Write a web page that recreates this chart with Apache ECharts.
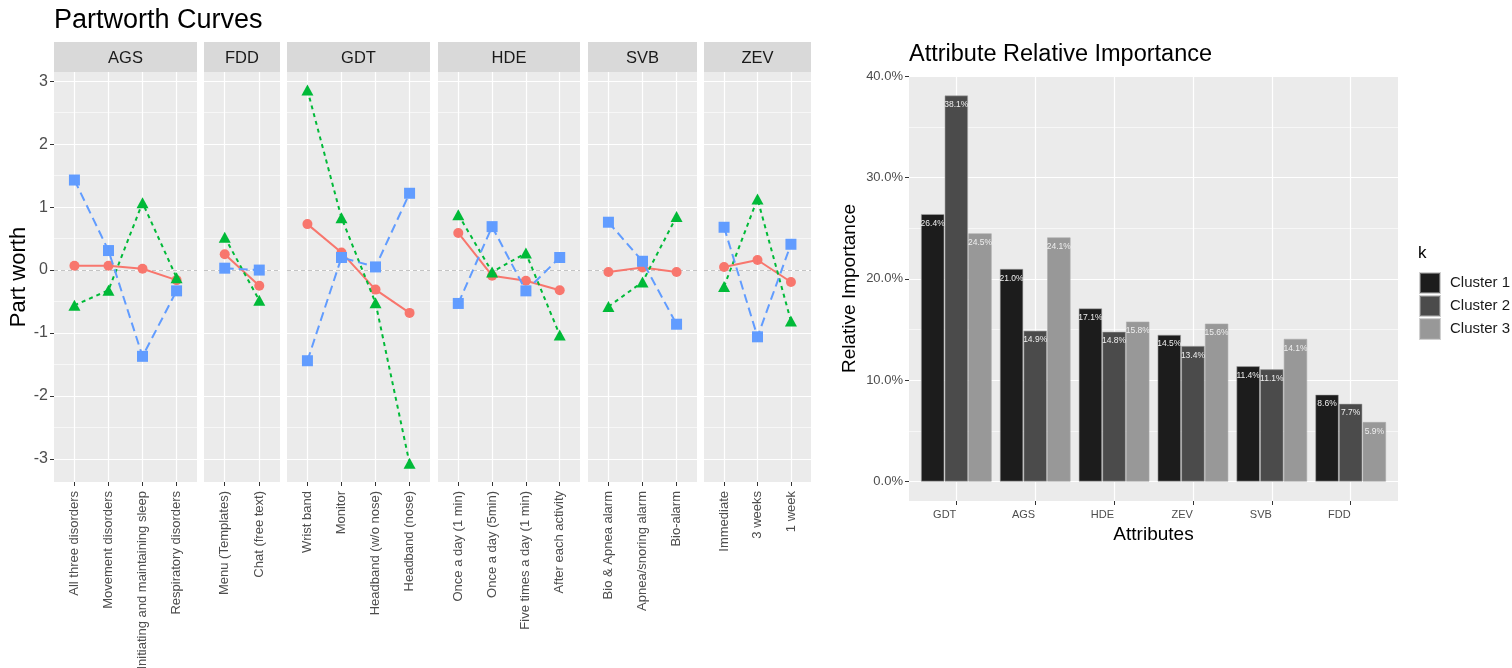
<!DOCTYPE html>
<html><head><meta charset="utf-8">
<script src="https://cdn.jsdelivr.net/npm/echarts@6/dist/echarts.min.js"></script>
<style>html,body{margin:0;padding:0;background:#fff}#c{width:1512px;height:668px}</style>
</head><body><div id="c"></div>
<script>
const FONT = '"Liberation Sans", Arial, Helvetica, sans-serif';

// ---------- Partworth curves data ----------
const facets = ['AGS', 'FDD', 'GDT', 'HDE', 'SVB', 'ZEV'];
const levels = [
  'All three disorders', 'Movement disorders', 'Initiating and maintaining sleep', 'Respiratory disorders',
  'Menu (Templates)', 'Chat (free text)',
  'Wrist band', 'Monitor', 'Headband (w/o nose)', 'Headband (nose)',
  'Once a day (1 min)', 'Once a day (5min)', 'Five times a day (1 min)', 'After each activity',
  'Bio & Apnea alarm', 'Apnea/snoring alarm', 'Bio-alarm',
  'Immediate', '3 weeks', '1 week'
];
const levelFacet = ['AGS','AGS','AGS','AGS','FDD','FDD','GDT','GDT','GDT','GDT',
  'HDE','HDE','HDE','HDE','SVB','SVB','SVB','ZEV','ZEV','ZEV'];
const cluster1 = [0.07, 0.07, 0.02, -0.16, 0.25, -0.25, 0.73, 0.28, -0.31, -0.68,
  0.59, -0.09, -0.17, -0.32, -0.03, 0.04, -0.03, 0.05, 0.16, -0.19];
const cluster2 = [-0.56, -0.32, 1.07, -0.12, 0.52, -0.48, 2.86, 0.83, -0.52, -3.07,
  0.88, -0.03, 0.27, -1.03, -0.58, -0.19, 0.85, -0.26, 1.13, -0.81];
const cluster3 = [1.43, 0.31, -1.37, -0.33, 0.03, 0.00, -1.44, 0.20, 0.05, 1.22,
  -0.53, 0.69, -0.33, 0.20, 0.76, 0.14, -0.86, 0.68, -1.06, 0.41];
const partTicks = [-3, -2, -1, 0, 1, 2, 3];

// ---------- Attribute importance data ----------
const attributes = ['GDT', 'AGS', 'HDE', 'ZEV', 'SVB', 'FDD'];
const imp1 = [26.4, 21.0, 17.1, 14.5, 11.4, 8.6];
const imp2 = [38.1, 14.9, 14.8, 13.4, 11.1, 7.7];
const imp3 = [24.5, 24.1, 15.8, 15.6, 14.1, 5.9];
const clusterNames = ['Cluster 1', 'Cluster 2', 'Cluster 3'];
const pctTicks = [0, 10, 20, 30, 40];

// ---------- layout (pixels) ----------
const facetBox = [[54, 143], [204, 76], [287, 143], [438, 142], [588, 109], [704, 107]];
const panelTop = 72, panelH = 410, stripTop = 42, stripH = 30;
const lineColors = ['#F8766D', '#00BA38', '#619CFF'];
const lineTypes = ['solid', [4, 4], [9, 5]];
const symbols = ['circle', 'triangle', 'rect'];
const symSizes = [10, [12, 11], 11];
const barColors = ['#1C1C1C', '#4B4B4B', '#989898'];

const isInt = v => Math.abs(v - Math.round(v)) < 1e-6;

const grid = [], xAxis = [], yAxis = [], series = [], graphic = [];
const clusters = [cluster1, cluster2, cluster3];

facets.forEach((f, i) => {
  const idx = levelFacet.map((ff, j) => ff === f ? j : -1).filter(j => j >= 0);
  const names = idx.map(j => levels[j]);
  const n = names.length;
  const pos = names.map((_, k) => k + 1);
  const [left, width] = facetBox[i];
  grid.push({ left: left, top: panelTop, width: width, height: panelH, show: true,
    backgroundColor: '#EBEBEB', borderWidth: 0, containLabel: false, outerBoundsMode: 'none' });
  xAxis.push({
    gridIndex: i, type: 'value', position: 'bottom', min: 0.4, max: n + 0.6, minInterval: 1, maxInterval: 1,
    axisLine: { show: false, onZero: false },
    axisTick: { show: true, customValues: pos, length: 4, lineStyle: { color: '#333333', width: 1 } },
    axisLabel: { show: true, customValues: pos, rotate: 90, fontSize: 13, color: '#4D4D4D', fontFamily: FONT, margin: 9,
      formatter: v => isInt(v) ? (names[Math.round(v) - 1] || '') : '' },
    splitLine: { show: true, lineStyle: { color: '#FFFFFF', width: 1.2 } }
  });
  yAxis.push({
    gridIndex: i, type: 'value', position: 'left', min: -3.366, max: 3.146, minInterval: 1, maxInterval: 1,
    axisLine: { show: false, onZero: false },
    axisTick: { show: i === 0, customValues: partTicks, length: 4, lineStyle: { color: '#333333', width: 1 } },
    axisLabel: { show: i === 0, customValues: partTicks, fontSize: 16, color: '#4D4D4D', fontFamily: FONT, margin: 6,
      formatter: v => isInt(v) ? String(Math.round(v)) : '' },
    splitLine: { show: true, lineStyle: { color: '#FFFFFF', width: 1.2 } },
    minorTick: { show: false, splitNumber: 2 },
    minorSplitLine: { show: true, lineStyle: { color: '#FFFFFF', width: 0.6 } },
    name: i === 0 ? 'Part worth' : '', nameLocation: 'middle', nameGap: 24,
    nameTextStyle: { fontSize: 22, color: '#000000', fontFamily: FONT }
  });
  clusters.forEach((cl, c) => {
    const s = {
      type: 'line', name: 'pw' + (c + 1) + f, xAxisIndex: i, yAxisIndex: i,
      data: idx.map((j, k) => [k + 1, cl[j]]),
      symbol: symbols[c], symbolSize: symSizes[c], showSymbol: true,
      lineStyle: { color: lineColors[c], width: 2, type: lineTypes[c] },
      itemStyle: { color: lineColors[c], borderWidth: 0 },
      silent: true, animation: false, z: 3 + c
    };
    if (c === 0) {
      s.markLine = { silent: true, symbol: 'none', z: 1, animation: false,
        label: { show: false },
        lineStyle: { color: '#C4C4C4', type: [4, 3], width: 1 },
        emphasis: { disabled: true },
        data: [{ yAxis: 0 }] };
    }
    series.push(s);
  });
  graphic.push({ type: 'rect', silent: true, shape: { x: left, y: stripTop, width: width, height: stripH },
    style: { fill: '#D9D9D9' } });
  graphic.push({ type: 'text', silent: true, x: left + width / 2, y: stripTop + stripH / 2 + 1,
    style: { text: f, fontSize: 16.5, fontFamily: FONT, fill: '#1A1A1A', align: 'center', verticalAlign: 'middle' } });
});

// ---------- bar chart ----------
const bg = facets.length;
grid.push({ left: 909, top: 76, width: 489, height: 425, show: true, backgroundColor: '#EBEBEB', borderWidth: 0,
  containLabel: false, outerBoundsMode: 'none' });
const attrPos = attributes.map((_, k) => k + 1);
xAxis.push({
  gridIndex: bg, type: 'value', position: 'bottom', min: 0.4, max: 6.6, minInterval: 1, maxInterval: 1,
  axisLine: { show: false, onZero: false },
  axisTick: { show: true, customValues: attrPos, length: 4, lineStyle: { color: '#333333' } },
  axisLabel: { customValues: attrPos, align: 'right', fontSize: 11, color: '#4D4D4D', fontFamily: FONT, margin: 8,
    formatter: v => isInt(v) ? (attributes[Math.round(v) - 1] || '') : '' },
  splitLine: { show: true, lineStyle: { color: '#FFFFFF', width: 1.2 } },
  name: 'Attributes', nameLocation: 'middle', nameGap: 21,
  nameTextStyle: { fontSize: 19, color: '#000000', fontFamily: FONT }
});
yAxis.push({
  gridIndex: bg, type: 'value', position: 'left', min: -1.905, max: 40.005, minInterval: 10, maxInterval: 10,
  axisLine: { show: false, onZero: false },
  axisTick: { show: true, customValues: pctTicks, length: 4, lineStyle: { color: '#333333' } },
  axisLabel: { customValues: pctTicks, fontSize: 13, color: '#4D4D4D', fontFamily: FONT, margin: 6,
    formatter: v => v.toFixed(1) + '%' },
  splitLine: { show: true, lineStyle: { color: '#FFFFFF', width: 1.2 } },
  minorTick: { show: false, splitNumber: 2 },
  minorSplitLine: { show: true, lineStyle: { color: '#FFFFFF', width: 0.6 } },
  name: 'Relative Importance', nameLocation: 'middle', nameRotate: 90, nameGap: 50,
  nameTextStyle: { fontSize: 19, color: '#000000', fontFamily: FONT }
});
[imp1, imp2, imp3].forEach((vals, c) => {
  series.push({
    type: 'bar', name: clusterNames[c], xAxisIndex: bg, yAxisIndex: bg,
    data: attributes.map((a, k) => [k + 1, vals[k]]),
    barWidth: '30%', barGap: '0%',
    itemStyle: { color: barColors[c], borderColor: 'rgba(170,170,170,0.55)', borderWidth: 1 },
    label: { show: true, position: 'insideTop', distance: 5, fontSize: 8.5, fontFamily: FONT, color: '#EEEEEE',
      formatter: p => p.value[1].toFixed(1) + '%' },
    silent: true, animation: false, z: 2
  });
});

const chart = echarts.init(document.getElementById('c'), null, { renderer: 'canvas' });
chart.setOption({
  animation: false,
  backgroundColor: '#FFFFFF',
  textStyle: { fontFamily: FONT },
  title: [
    { text: 'Partworth Curves', left: 54, top: 7, padding: 0,
      textStyle: { fontSize: 27, fontWeight: 'normal', color: '#000000', fontFamily: FONT } },
    { text: 'Attribute Relative Importance', left: 909, top: 43, padding: 0,
      textStyle: { fontSize: 23.5, fontWeight: 'normal', color: '#000000', fontFamily: FONT } },
    { text: 'k', left: 1418, top: 245, padding: 0,
      textStyle: { fontSize: 17, fontWeight: 'normal', color: '#000000', fontFamily: FONT } }
  ],
  legend: {
    data: clusterNames, orient: 'vertical', left: 1419, top: 272, padding: 0,
    itemWidth: 20, itemHeight: 20, itemGap: 1, icon: 'rect', selectedMode: false,
    textStyle: { fontSize: 15, color: '#1A1A1A', fontFamily: FONT, padding: [0, 0, 0, 5] }
  },
  grid: grid, xAxis: xAxis, yAxis: yAxis, series: series, graphic: graphic
});
</script></body></html>
